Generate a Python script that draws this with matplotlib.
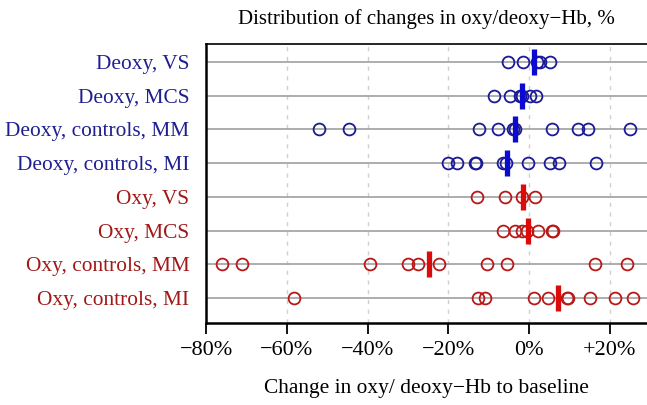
import numpy as np
import matplotlib.pyplot as plt

plt.rcParams['font.family'] = ['Liberation Serif', 'DejaVu Serif']

# rows, top to bottom
labels = ['Deoxy, VS', 'Deoxy, MCS', 'Deoxy, controls, MM', 'Deoxy, controls, MI',
          'Oxy, VS', 'Oxy, MCS', 'Oxy, controls, MM', 'Oxy, controls, MI']

deoxy_vs  = [-5.1, -1.4, 1.9, 2.7, 5.2]
deoxy_mcs = [-8.8, -4.7, -2.2, -1.8, 0.2, 1.7]
deoxy_mm  = [-52.0, -44.7, -12.5, -7.6, -3.9, -3.5, 5.6, 12.2, 14.7, 25.0]
deoxy_mi  = [-20.0, -17.9, -13.4, -13.1, -6.4, -5.7, -0.2, 5.2, 7.3, 16.6]
oxy_vs    = [-12.9, -5.9, -1.8, 1.5]
oxy_mcs   = [-6.4, -3.5, -1.8, -0.6, 2.3, 5.6, 6.0]
oxy_mm    = [-76.0, -71.1, -39.5, -30.1, -27.6, -22.2, -10.3, -5.5, 16.2, 24.2]
oxy_mi    = [-58.3, -12.7, -10.9, 1.3, 4.8, 9.3, 9.7, 15.1, 21.3, 25.8]

series = [deoxy_vs, deoxy_mcs, deoxy_mm, deoxy_mi, oxy_vs, oxy_mcs, oxy_mm, oxy_mi]
means = [1.1, -1.8, -3.6, -5.4, -1.6, -0.2, -24.9, 7.1]

xticks = [-80, -60, -40, -20, 0, 20]
xticklabels = ['\u221280%', '\u221260%', '\u221240%', '\u221220%', '0%', '+20%']

blue_dark = '#1f1f8f'
red_dark = '#a01818'

fig = plt.figure(figsize=(6.47, 4.05), dpi=100)
ax = fig.add_axes([0.3184, 0.2025, 0.6816, 0.689])

n = len(labels)
ypos = np.arange(n, 0, -1)

for y, vals, m, lab in zip(ypos, series, means, labels):
    is_deoxy = lab.startswith('Deoxy')
    c = '#1a1a99' if is_deoxy else '#b81818'
    cm = '#0a0ad0' if is_deoxy else '#dd0a0a'
    ax.axhline(y, color='#a0a0a0', lw=1.2, zorder=1)
    ax.plot(vals, [y] * len(vals), 'o', ms=8.5, mfc='none', mec=c, mew=1.3, zorder=3)
    ax.plot([m], [y], '|', ms=19, mec=cm, mew=3.8, zorder=4)

for xv in xticks[1:]:
    ax.axvline(xv, color='#d0d0d0', lw=1.0, ls=(0, (3, 4)), zorder=0)

ax.set_xlim(-80, 29.2)
ax.set_ylim(0.26, n + 0.53)
ax.set_xticks(xticks)
ax.set_xticklabels(xticklabels, fontsize=16)
ax.set_yticks(ypos)
ax.set_yticklabels(labels, fontsize=15.4)
for t, lab in zip(ax.get_yticklabels(), labels):
    t.set_color(blue_dark if lab.startswith('Deoxy') else red_dark)

ax.tick_params(axis='x', direction='out', length=8, width=1.3, pad=5)
ax.tick_params(axis='y', length=0, pad=12)
ax.spines['right'].set_visible(False)
ax.spines['left'].set_linewidth(1.8)
ax.spines['bottom'].set_linewidth(1.8)
ax.spines['top'].set_linewidth(1.2)

ax.set_title('Distribution of changes in oxy/deoxy\u2212Hb, %', fontsize=15, pad=14.5)
ax.set_xlabel('Change in oxy/ deoxy\u2212Hb to baseline', fontsize=15.4, labelpad=14)

fig.savefig('out.png', dpi=100)
